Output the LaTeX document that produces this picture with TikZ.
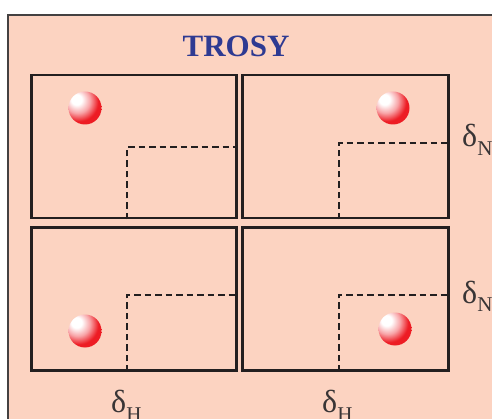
\documentclass[tikz,border=0pt]{standalone}
\usepackage{fontspec}
\setmainfont{Liberation Serif}
\usepackage{tikz}

\definecolor{bgpink}{RGB}{252,211,193}
\definecolor{trosyblue}{RGB}{46,58,146}
\definecolor{ballred}{RGB}{237,28,36}
\definecolor{framegray}{RGB}{35,31,32}
\pgfdeclareradialshading{redball}{\pgfpoint{-14bp}{14bp}}{%
  color(0bp)=(white); color(8bp)=(white); color(19bp)=(ballred!40!white);
  color(30bp)=(ballred); color(50bp)=(ballred); color(100bp)=(ballred)}
\newcommand{\shiftlabel}[1]{δ{\fontsize{21}{21}\selectfont\raisebox{-9pt}{#1}}}

\begin{document}
\begin{tikzpicture}[x=1pt,y=-1pt,
  panel/.style={draw=framegray,line width=2.6pt,inner sep=0pt,minimum width=205.5pt,minimum height=143pt},
  ball/.style={circle,inner sep=0pt,minimum size=33pt,shading=redball},
  cut/.style={draw=framegray,line width=2.3pt,dash pattern=on 6.5pt off 4pt},
  axislabel/.style={inner sep=0pt,anchor=base west,text=framegray!90,font=\fontsize{32}{32}\selectfont}]
  % pixel coordinates of the 492x419 figure, y down
  \path[use as bounding box,clip] (0,0) rectangle (492,419);
  \draw[draw=framegray!85,line width=1.3pt,fill=bgpink] (8,15) rectangle (520,440);
  \node[anchor=base,text=trosyblue,font=\bfseries\fontsize{31}{31}\selectfont] (title) at (236,57) {TROSY};
  % four spectra: panel centre / corner of the dashed cut / peak
  \foreach \name/\px/\py/\cx/\cy/\bx/\by in {tl/134/146.5/127/147/85/108, tr/345.5/146.5/339/143/393/108,
      bl/134/299/127/295/85/331, br/345.5/299/339/295/395/329} {
    \node[panel] (p\name) at (\px,\py) {};
    \coordinate (c\name) at (\cx,\cy);
    \draw[cut] (p\name.south -| c\name) -- (c\name) -- (c\name -| p\name.east);
    \node[ball] (b\name) at (\bx,\by) {};
  }
  \node[axislabel] (dN1) at (462,147) {\shiftlabel{N}};
  \node[axislabel] (dN2) at (462,303) {\shiftlabel{N}};
  \node[axislabel] (dH1) at (111,412) {\shiftlabel{H}};
  \node[axislabel] (dH2) at (322,412) {\shiftlabel{H}};
\end{tikzpicture}
\end{document}
